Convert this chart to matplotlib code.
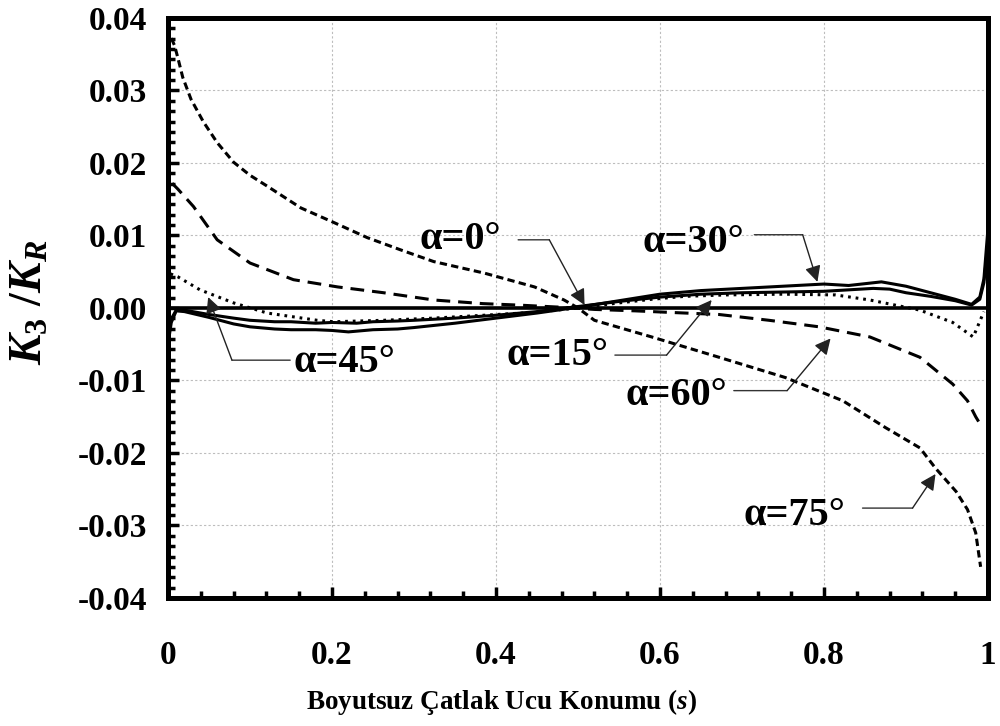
import numpy as np
import matplotlib
matplotlib.use("Agg")
import matplotlib.pyplot as plt
from matplotlib.ticker import MultipleLocator, AutoMinorLocator

plt.rcParams["font.family"] = ["Liberation Serif", "DejaVu Serif"]
plt.rcParams["font.weight"] = "bold"
plt.rcParams["mathtext.fontset"] = "custom"
plt.rcParams["mathtext.rm"] = "Liberation Serif"
plt.rcParams["mathtext.it"] = "Liberation Serif:italic:bold"
plt.rcParams["mathtext.bf"] = "Liberation Serif:bold"

# ---- data: normalised mode-III SIF along the crack front ----
s_a0 = [0.0, 1.0]
k_a0 = [0.0, 0.0]

s_a15 = [0.0, 0.004, 0.01, 0.02, 0.05, 0.08, 0.1, 0.13, 0.15, 0.18, 0.2, 0.23, 0.25,
         0.28, 0.3, 0.35, 0.4, 0.45, 0.5, 0.55, 0.6, 0.65, 0.7, 0.75, 0.8, 0.83,
         0.86, 0.88, 0.9, 0.93, 0.96, 0.98, 0.99, 0.995, 1.0]
k_a15 = [-0.004, -0.0015, -0.0003, -0.0003, -0.0009, -0.0014, -0.0017, -0.0019, -0.0019,
         -0.0021, -0.002, -0.0021, -0.0019, -0.0018, -0.0017, -0.0014, -0.001, -0.0005,
         0.0002, 0.0009, 0.0015, 0.0019, 0.0021, 0.0022, 0.0023, 0.0025, 0.0027,
         0.0026, 0.0021, 0.0016, 0.001, 0.0004, 0.0012, 0.0035, 0.009]

s_a30 = [0.0, 0.004, 0.01, 0.02, 0.05, 0.08, 0.1, 0.13, 0.15, 0.18, 0.2, 0.22, 0.25,
         0.28, 0.3, 0.35, 0.4, 0.45, 0.5, 0.55, 0.6, 0.65, 0.7, 0.75, 0.8, 0.83,
         0.87, 0.9, 0.93, 0.96, 0.98, 0.99, 0.995, 1.0]
k_a30 = [-0.005, -0.002, -0.0004, -0.0005, -0.0013, -0.0022, -0.0026, -0.0029, -0.003,
         -0.003, -0.0031, -0.0033, -0.003, -0.0029, -0.0027, -0.0021, -0.0014, -0.0007,
         0.0001, 0.001, 0.0019, 0.0024, 0.0027, 0.003, 0.0033, 0.0031, 0.0036, 0.003,
         0.0021, 0.0012, 0.0005, 0.0015, 0.004, 0.011]

s_a45 = [0.003, 0.012, 0.039, 0.08, 0.121, 0.182, 0.202, 0.263, 0.324, 0.386, 0.447,
         0.5, 0.55, 0.59, 0.63, 0.68, 0.75, 0.814, 0.856, 0.917, 0.957, 0.982, 0.995]
k_a45 = [0.0047, 0.0043, 0.0025, 0.0007, -0.0007, -0.0017, -0.0019, -0.0017, -0.0014,
         -0.001, -0.0006, 0.0, 0.0007, 0.0012, 0.0016, 0.0018, 0.0019, 0.0018, 0.0011,
         -0.0003, -0.002, -0.004, -0.0005]

s_a60 = [0.005, 0.012, 0.031, 0.06, 0.1, 0.153, 0.207, 0.263, 0.324, 0.384, 0.427,
         0.48, 0.52, 0.57, 0.61, 0.672, 0.733, 0.794, 0.856, 0.917, 0.957, 0.975,
         0.985, 0.993]
k_a60 = [0.0172, 0.0164, 0.014, 0.0094, 0.0062, 0.0039, 0.0029, 0.0021, 0.0011, 0.0006,
         0.0004, 0.0001, -0.0002, -0.0004, -0.0006, -0.0009, -0.0017, -0.0026, -0.004,
         -0.0068, -0.0105, -0.0128, -0.015, -0.0165]

s_a75 = [0.004, 0.008, 0.012, 0.018, 0.028, 0.043, 0.06, 0.08, 0.1, 0.121, 0.162, 0.202,
         0.243, 0.284, 0.324, 0.386, 0.447, 0.483, 0.5, 0.52, 0.59, 0.672, 0.753,
         0.823, 0.875, 0.917, 0.936, 0.961, 0.975, 0.985, 0.991]
k_a75 = [0.0372, 0.0362, 0.0345, 0.0318, 0.0288, 0.0257, 0.0228, 0.0201, 0.0183, 0.0168,
         0.0138, 0.0118, 0.0097, 0.008, 0.0064, 0.0048, 0.0029, 0.0011, 0.0, -0.0017,
         -0.004, -0.0068, -0.0096, -0.0128, -0.0165, -0.0193, -0.0221, -0.0253, -0.0278,
         -0.031, -0.0357]

# ---- annotations ----
ann_text = ["α=0°", "α=15°", "α=30°", "α=45°", "α=60°", "α=75°"]
ann_text_xy = [(0.357, 0.0094), (0.475, -0.0065), (0.641, 0.0090),
               (0.215, -0.0075), (0.620, -0.0121), (0.764, -0.0286)]
ann_start = [(0.427, 0.0094), (0.545, -0.0065), (0.715, 0.0101),
             (0.149, -0.0072), (0.690, -0.0114), (0.847, -0.0276)]
ann_elbow = [(0.465, 0.0094), (0.608, -0.0065), (0.774, 0.0101),
             (0.078, -0.0072), (0.755, -0.0114), (0.908, -0.0276)]
ann_target = [(0.508, 0.0004), (0.663, 0.0011), (0.792, 0.0036),
              (0.049, 0.0015), (0.808, -0.0042), (0.936, -0.0229)]

x_ticks = [0, 0.2, 0.4, 0.6, 0.8, 1]
x_ticklabels = ["0", "0.2", "0.4", "0.6", "0.8", "1"]
y_ticks = [-0.04, -0.03, -0.02, -0.01, 0.0, 0.01, 0.02, 0.03, 0.04]
y_ticklabels = ["-0.04", "-0.03", "-0.02", "-0.01", "0.00", "0.01", "0.02", "0.03", "0.04"]

fig = plt.figure(figsize=(10, 7.26), dpi=100)
ax = fig.add_axes([0.168, 0.1763, 0.820, 0.799])

lw = 2.2
ax.plot(s_a0, k_a0, color="black", lw=2.6, solid_capstyle="butt", zorder=3)
ax.plot(s_a15, k_a15, color="black", lw=lw, zorder=3)
ax.plot(s_a30, k_a30, color="black", lw=lw, zorder=3)
ax.plot(s_a45, k_a45, color="black", lw=lw, linestyle=(0, (0.9, 1.6)), zorder=3)
ax.plot(s_a60, k_a60, color="black", lw=lw, linestyle=(0, (4.5, 2.6)), zorder=3)
ax.plot(s_a75, k_a75, color="black", lw=lw, linestyle=(0, (2.4, 1.4)), zorder=3)

for txt, txy, st, el, tg in zip(ann_text, ann_text_xy, ann_start, ann_elbow, ann_target):
    ax.text(txy[0], txy[1], txt, ha="center", va="center", fontsize=29,
            fontweight="bold", zorder=5)
    ax.annotate("", xy=el, xytext=st,
                arrowprops=dict(arrowstyle="-", color="#333333", lw=1.0,
                                shrinkA=0, shrinkB=0), zorder=4)
    ax.annotate("", xy=tg, xytext=el,
                arrowprops=dict(arrowstyle="-|>", color="#222222", lw=1.0,
                                mutation_scale=24, shrinkA=0, shrinkB=0), zorder=4)

ax.set_xlim(0, 1)
ax.set_ylim(-0.04, 0.04)
ax.set_xticks(x_ticks)
ax.set_xticklabels(x_ticklabels)
ax.set_yticks(y_ticks)
ax.set_yticklabels(y_ticklabels)
ax.xaxis.set_minor_locator(MultipleLocator(0.04))
ax.yaxis.set_minor_locator(AutoMinorLocator(7))
ax.tick_params(axis="both", which="major", direction="in", length=8, width=2.5,
               labelsize=24)
ax.tick_params(axis="both", which="minor", direction="in", length=5, width=2.5)
ax.tick_params(axis="x", which="major", pad=30)
ax.tick_params(axis="y", which="major", pad=15)
for lab in ax.get_xticklabels() + ax.get_yticklabels():
    lab.set_fontweight("bold")

ax.grid(True, which="major", color="#bdbdbd", linestyle=(0, (2, 2)), lw=0.8, zorder=0)
for sp in ax.spines.values():
    sp.set_linewidth(3.6)

ax.set_ylabel(r"$K_3\ /K_R$", fontsize=33)
ax.set_xlabel(r"Boyutsuz Çatlak Ucu Konumu ($s$)", fontsize=19.5, fontweight="bold")
ax.xaxis.set_label_coords(0.407, -0.153)
ax.yaxis.set_label_coords(-0.142, 0.51)

fig.savefig("out.png", dpi=100)
